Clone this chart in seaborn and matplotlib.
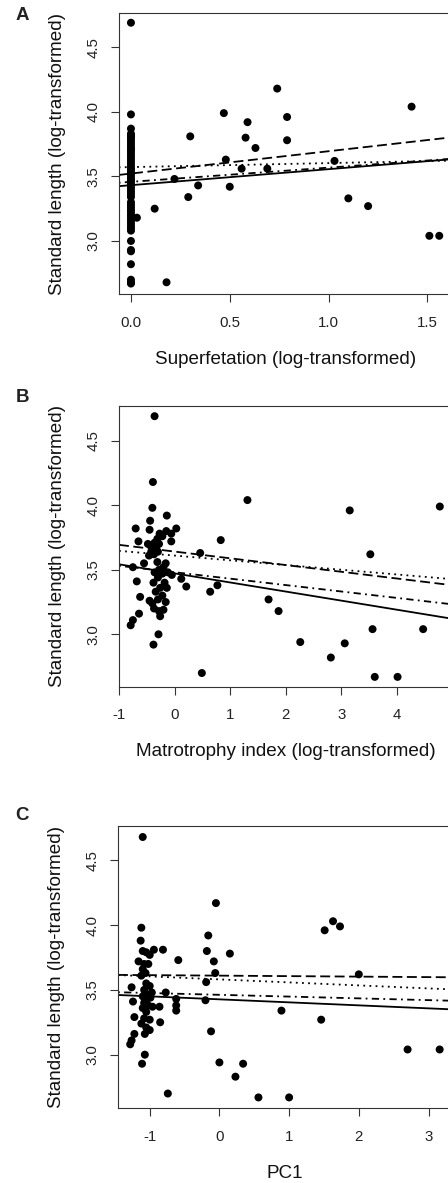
import numpy as np
import pandas as pd
import matplotlib
matplotlib.use("Agg")
import matplotlib.pyplot as plt
import seaborn as sns

# ---------------- data ----------------
# Panel A: superfetation (log) vs standard length (log)
a_x = [0.0] * 51 + [0.03, 0.12, 0.18, 0.22, 0.29, 0.30, 0.34, 0.47, 0.48, 0.50, 0.56, 0.58,
                    0.59, 0.63, 0.69, 0.74, 0.79, 0.79, 1.03, 1.10, 1.20, 1.42, 1.51, 1.56]
a_y = [4.69, 3.98, 3.87, 3.83, 3.82, 3.81, 3.80, 3.78, 3.76, 3.74, 3.72, 3.71, 3.70, 3.68,
       3.66, 3.64, 3.62, 3.60, 3.58, 3.56, 3.55, 3.53, 3.51, 3.49, 3.47, 3.46, 3.44, 3.42,
       3.40, 3.38, 3.36, 3.34, 3.30, 3.28, 3.26, 3.24, 3.22, 3.20, 3.18, 3.16, 3.14, 3.12,
       3.10, 3.08, 3.00, 2.93, 2.92, 2.82, 2.70, 2.68, 2.67,
       3.18, 3.25, 2.68, 3.48, 3.34, 3.81, 3.43, 3.99, 3.63, 3.42, 3.56, 3.80,
       3.92, 3.72, 3.56, 4.18, 3.96, 3.78, 3.62, 3.33, 3.27, 4.04, 3.04, 3.04]

# Panel B: matrotrophy index (log) vs standard length (log)
b_x = [-0.36, -0.39, -0.40, -0.14, -0.44, -0.70, -0.45, 0.03, -0.15, -0.06, -0.27, -0.22,
       -0.31, -0.65, -0.06, -0.28, -0.36, -0.48, -0.40, -0.33, -0.42, -0.37, -0.46, -0.30,
       -0.55, -0.75, -0.31, -0.16, -0.20, -0.36, -0.22, -0.12, -0.05, -0.28, -0.68, -0.30,
       -0.18, -0.38, -0.26, -0.14, -0.62, -0.34, -0.22, -0.45, -0.40, -0.30, -0.16, -0.37,
       -0.28, -0.20, -0.26, -0.64, -0.75, -0.79, -0.29, -0.38,
       0.12, 0.21, 0.46, 0.49, 0.64, 0.77, 0.83, 1.31, 1.69, 1.87, 2.26, 2.81, 3.06, 3.15,
       3.52, 3.56, 3.60, 4.01, 4.47, 4.77]
b_y = [4.69, 4.18, 3.98, 3.92, 3.88, 3.82, 3.81, 3.82, 3.80, 3.78, 3.78, 3.76,
       3.74, 3.72, 3.72, 3.70, 3.71, 3.70, 3.68, 3.66, 3.64, 3.62, 3.61, 3.64,
       3.55, 3.52, 3.56, 3.55, 3.52, 3.48, 3.47, 3.48, 3.46, 3.50, 3.41, 3.44,
       3.40, 3.40, 3.36, 3.36, 3.29, 3.33, 3.30, 3.26, 3.24, 3.27, 3.25, 3.20,
       3.18, 3.19, 3.14, 3.16, 3.11, 3.07, 3.00, 2.92,
       3.43, 3.37, 3.63, 2.70, 3.33, 3.38, 3.73, 4.04, 3.27, 3.18, 2.94, 2.82, 2.93, 3.96,
       3.62, 3.04, 2.67, 2.67, 3.04, 3.99]

# Panel C: PC1 vs standard length (log)
c_x = [-1.10, -1.12, -1.13, -1.10, -1.05, -1.00, -1.16, -1.08, -1.02, -1.10, -1.06, -1.12,
       -0.94, -0.81, -0.59, -1.26, -1.05, -1.00, -1.08, -0.97, -1.03, -1.10, -0.99, -1.05,
       -0.77, -1.24, -1.08, -1.02, -0.96, -1.10, -0.86, -1.05, -1.22, -1.08, -1.00, -0.85,
       -1.12, -1.05, -1.00, -1.07, -1.22, -1.26, -1.28, -1.07, -1.11, -0.62, -0.62, -0.62,
       -0.74,
       -0.05, 1.63, 1.73, 1.51, -0.16, -0.18, 0.15, -0.08, -0.06, 2.00, -0.19, -0.20, 0.89,
       1.46, -0.12, 2.70, 3.16, 0.00, 0.34, 0.23, 0.56, 1.00]
c_y = [4.68, 3.98, 3.88, 3.80, 3.79, 3.77, 3.72, 3.70, 3.70, 3.66, 3.63, 3.61,
       3.81, 3.81, 3.73, 3.52, 3.55, 3.53, 3.50, 3.48, 3.46, 3.45, 3.44, 3.42,
       3.48, 3.41, 3.40, 3.38, 3.37, 3.36, 3.37, 3.33, 3.29, 3.28, 3.27, 3.25,
       3.24, 3.21, 3.19, 3.16, 3.16, 3.11, 3.08, 3.00, 2.93, 3.43, 3.38, 3.34,
       2.70,
       4.17, 4.03, 3.99, 3.96, 3.92, 3.80, 3.78, 3.72, 3.63, 3.62, 3.56, 3.42, 3.34,
       3.27, 3.18, 3.04, 3.04, 2.94, 2.93, 2.83, 2.67, 2.67]

# Regression lines (intercept, slope) in order: solid, dashed, dotted, dot-dash
a_intercepts = [3.432, 3.522, 3.572, 3.458]
a_slopes = [0.124, 0.173, 0.031, 0.110]
b_intercepts = [3.472, 3.641, 3.610, 3.481]
b_slopes = [-0.0704, -0.0522, -0.0366, -0.0498]
c_intercepts = [3.427, 3.610, 3.581, 3.462]
c_slopes = [-0.0232, -0.0038, -0.0232, -0.0137]

panel_letters = ["A", "B", "C"]
x_labels = ["Superfetation (log-transformed)",
            "Matrotrophy index (log-transformed)",
            "PC1"]
y_label = "Standard length (log-transformed)"
a_xticks = [0.0, 0.5, 1.0, 1.5]
a_xticklabels = ["0.0", "0.5", "1.0", "1.5"]
b_xticks = [-1, 0, 1, 2, 3, 4]
b_xticklabels = ["-1", "0", "1", "2", "3", "4"]
c_xticks = [-1, 0, 1, 2, 3]
c_xticklabels = ["-1", "0", "1", "2", "3"]
yticks = [3.0, 3.5, 4.0, 4.5]
yticklabels = ["3.0", "3.5", "4.0", "4.5"]

# ---------------- style ----------------
sns.set_style("ticks")
plt.rcParams["font.family"] = ["Liberation Sans", "DejaVu Sans"]

W, H = 448, 1183
fig = plt.figure(figsize=(W / 100, H / 100), dpi=100)

def px_axes(left, right, top, bottom):
    return fig.add_axes([left / W, 1 - bottom / H, (right - left) / W, (bottom - top) / H])

panels = [
    dict(box=(118.7, 452, 13.3, 294.3), xlim=(-0.062, 1.6245), ylim=(2.587, 4.763),
         x=a_x, y=a_y, ic=a_intercepts, sl=a_slopes, xt=a_xticks, xtl=a_xticklabels,
         letter_y=16),
    dict(box=(119, 452, 406, 686.7), xlim=(-1.0, 4.989), ylim=(2.594, 4.769),
         x=b_x, y=b_y, ic=b_intercepts, sl=b_slopes, xt=b_xticks, xtl=b_xticklabels,
         letter_y=397),
    dict(box=(118, 452, 826, 1108.3), xlim=(-1.455, 3.337), ylim=(2.586, 4.765),
         x=c_x, y=c_y, ic=c_intercepts, sl=c_slopes, xt=c_xticks, xtl=c_xticklabels,
         letter_y=816),
]

line_dashes = [None, (5.5, 2.5), (1.0, 2.4), (1.0, 2.4, 4.0, 2.4)]
line_styles = ["-", "--", ":", "-."]

for i, p in enumerate(panels):
    ax = px_axes(*p["box"])
    df = pd.DataFrame({"x": p["x"], "y": p["y"]})
    sns.scatterplot(data=df, x="x", y="y", ax=ax, color="black", s=33,
                    edgecolor="none", linewidth=0, zorder=3)
    for k in range(4):
        ln = ax.axline((0, p["ic"][k]), slope=p["sl"][k], color="black", lw=1.3,
                       linestyle=line_styles[k], zorder=2)
        if line_dashes[k] is not None:
            ln.set_dashes(line_dashes[k])
    ax.set_xlim(*p["xlim"])
    ax.set_ylim(*p["ylim"])
    ax.set_xticks(p["xt"])
    ax.set_xticklabels(p["xtl"])
    ax.set_yticks(yticks)
    ax.set_yticklabels(yticklabels, rotation=90, va="center")
    ax.tick_params(axis="both", direction="out", length=6, width=0.8, color="#333333",
                   labelsize=10.8, labelcolor="#222222")
    ax.tick_params(axis="x", pad=9.5)
    ax.tick_params(axis="y", pad=7)
    for s in ax.spines.values():
        s.set_visible(True)
        s.set_color("#333333")
        s.set_linewidth(0.8)
    ax.set_xlabel(x_labels[i], fontsize=13.6, labelpad=15, color="#111111")
    ax.set_ylabel(y_label, fontsize=13.6, labelpad=15, color="#111111")
    fig.text(22 / W, 1 - p["letter_y"] / H, panel_letters[i], fontsize=13.5,
             fontweight="bold", ha="center", va="center", color="#222222")

fig.savefig("out.png", dpi=100, facecolor="white")
